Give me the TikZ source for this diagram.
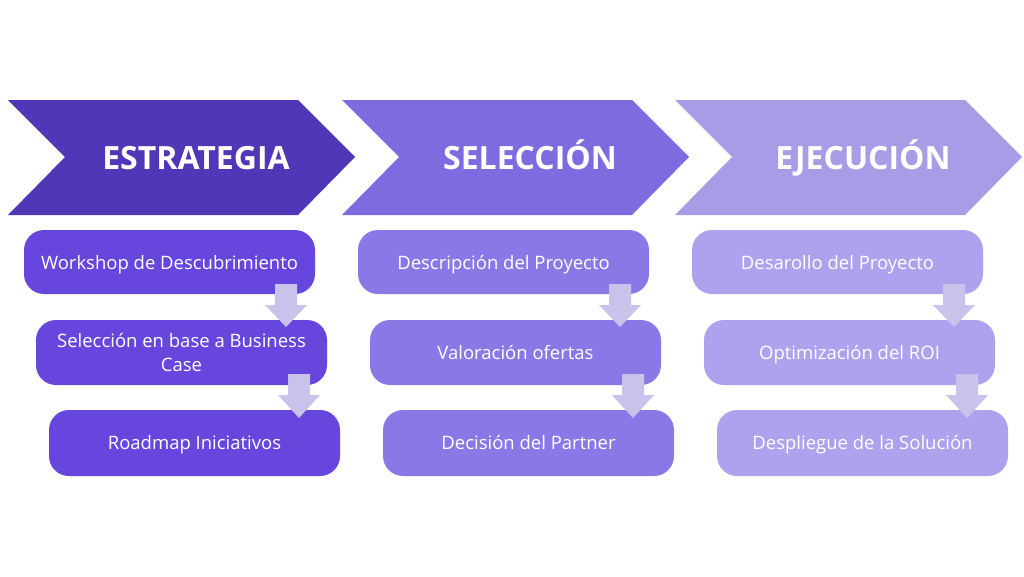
\documentclass[tikz,border=0pt]{standalone}
\usepackage{fontspec}
\setmainfont{Open Sans}
\begin{document}
\begin{tikzpicture}[x=1pt,y=-1pt,
  box/.style={inner sep=0pt,text=white,font=\fontsize{18.5}{24}\selectfont,align=center},
  ttl/.style={text=white,font=\bfseries\fontsize{32}{36}\selectfont,anchor=base}]
\definecolor{chA}{HTML}{5236B8}\definecolor{chB}{HTML}{7E6BE0}\definecolor{chC}{HTML}{A79CE6}
\definecolor{bxA}{HTML}{6646DD}\definecolor{bxB}{HTML}{8A78E6}\definecolor{bxC}{HTML}{AEA2EE}
\definecolor{lavA}{HTML}{C9C3EC}
\useasboundingbox (0,0) rectangle (1024,576);
\fill[white] (0,0) rectangle (1024,576);
\foreach \dx/\c/\t [count=\i] in {0/chA/ESTRATEGIA,334/chB/SELECCIÓN,667/chC/EJECUCIÓN}{
  \fill[\c] (8+\dx,100) -- (298+\dx,100) -- (355+\dx,157) -- (298+\dx,215) -- (8+\dx,215) -- (65+\dx,157) -- cycle;
  \node[ttl] (t\i) at (196+\dx,169) {\t};
}
\foreach \dx/\c/\a/\b/\cc [count=\i] in {
  0/bxA/Workshop de Descubrimiento/{Selección en base a Business\\Case}/Roadmap Iniciativos,
  334/bxB/Descripción del Proyecto/Valoración ofertas/Decisión del Partner,
  668/bxC/Desarollo del Proyecto/Optimización del ROI/Despliegue de la Solución}{
  \fill[\c,rounded corners=20pt] (24+\dx,230) rectangle (315+\dx,294);
  \node[box,anchor=base] (a\i) at (169.5+\dx,269) {\a};
  \fill[\c,rounded corners=20pt] (36+\dx,320) rectangle (327+\dx,385);
  \ifnum\i=1
    \node[box] (b\i) at (181.5+\dx,352.5) {\b};
  \else
    \node[box,anchor=base] (b\i) at (181.5+\dx,359) {\b};
  \fi
  \fill[\c,rounded corners=20pt] (49+\dx,410) rectangle (340+\dx,476);
  \node[box,anchor=base] (c\i) at (194.5+\dx,449) {\cc};
  \fill[lavA] (275+\dx,284) -- (297+\dx,284) -- (297+\dx,305) -- (307+\dx,305) -- (286+\dx,327) -- (265+\dx,305) -- (275+\dx,305) -- cycle;
  \fill[lavA] (288+\dx,374) -- (310+\dx,374) -- (310+\dx,395) -- (320+\dx,395) -- (299+\dx,418) -- (278+\dx,395) -- (288+\dx,395) -- cycle;
}
\end{tikzpicture}
\end{document}
